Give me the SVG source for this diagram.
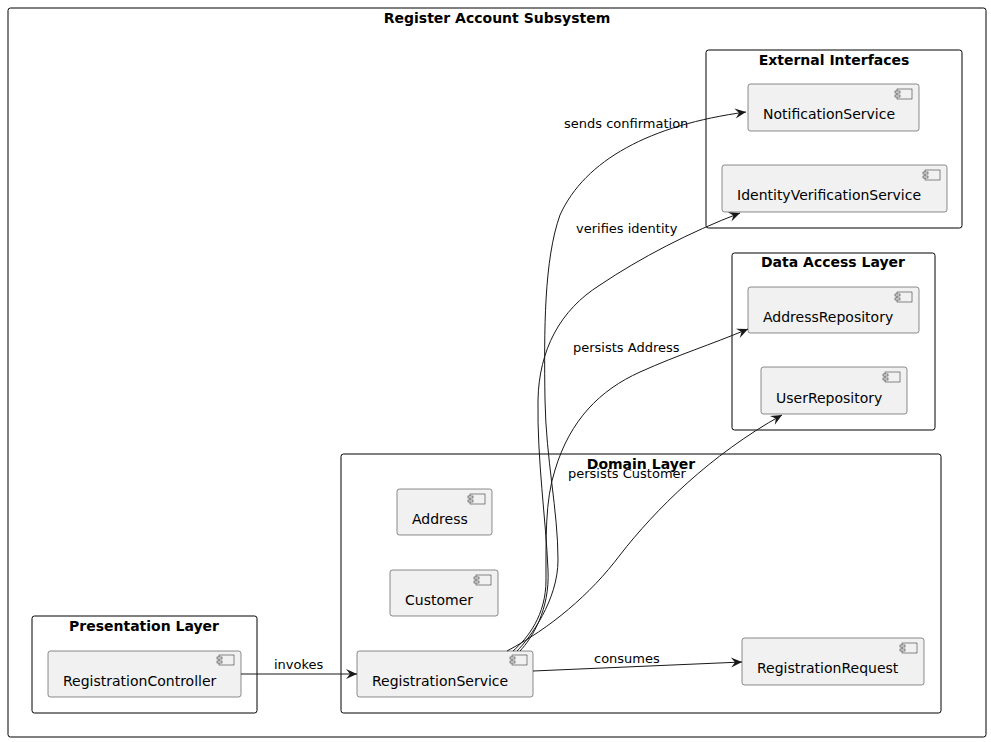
<svg xmlns="http://www.w3.org/2000/svg" width="991" height="742" viewBox="0 0 991 742">
<style>
.frame{fill:none;stroke:#000;stroke-width:1}
.ftitle{font-family:"DejaVu Sans",sans-serif;font-size:14px;font-weight:bold;fill:#000;text-anchor:middle}
.comp{fill:#F1F1F1;stroke:#181818;stroke-width:0.5}
.ctext{font-family:"DejaVu Sans",sans-serif;font-size:14px;fill:#000}
.icon{fill:#F1F1F1;stroke:#181818;stroke-width:0.5}
.edge{fill:none;stroke:#181818;stroke-width:1}
.elabel{font-family:"DejaVu Sans",sans-serif;font-size:13px;fill:#000}
</style>
<defs>
<marker id="arr" viewBox="-12 -6 13 12" markerWidth="13" markerHeight="12" refX="0" refY="0" orient="auto" markerUnits="userSpaceOnUse">
<path d="M0,0 L-11,-5 L-7,0 L-11,5 Z" fill="#181818"/>
</marker>
<g id="cicon">
<rect class="icon" x="2" y="0" width="15" height="10"/>
<rect class="icon" x="0" y="2" width="5" height="2"/>
<rect class="icon" x="0" y="6" width="5" height="2"/>
</g>
</defs>
<rect width="991" height="742" fill="#fff"/>

<g id="frame-subsystem">
<rect class="frame" x="8" y="8" width="978" height="729" rx="2.5"/>
<text class="ftitle" x="497" y="23">Register Account Subsystem</text>
</g>
<g id="frame-external">
<rect class="frame" x="706" y="50" width="256" height="178" rx="2.5"/>
<text class="ftitle" x="834" y="65">External Interfaces</text>
</g>
<g id="frame-data">
<rect class="frame" x="732" y="253" width="203" height="177" rx="2.5"/>
<text class="ftitle" x="833" y="267">Data Access Layer</text>
</g>
<g id="frame-domain">
<rect class="frame" x="341" y="454" width="600" height="259" rx="2.5"/>
<text class="ftitle" x="641" y="469">Domain Layer</text>
</g>
<g id="frame-presentation">
<rect class="frame" x="32" y="616" width="225" height="97" rx="2.5"/>
<text class="ftitle" x="144" y="631">Presentation Layer</text>
</g>

<g id="NotificationService">
<rect class="comp" x="748" y="84" width="171" height="47" rx="2.5"/>
<use href="#cicon" x="895" y="89"/>
<text class="ctext" x="763" y="119">NotificationService</text>
</g>
<g id="IdentityVerificationService">
<rect class="comp" x="722" y="165" width="225" height="47" rx="2.5"/>
<use href="#cicon" x="923" y="170"/>
<text class="ctext" x="737" y="200">IdentityVerificationService</text>
</g>
<g id="AddressRepository">
<rect class="comp" x="748" y="287" width="171" height="46" rx="2.5"/>
<use href="#cicon" x="895" y="292"/>
<text class="ctext" x="763" y="322">AddressRepository</text>
</g>
<g id="UserRepository">
<rect class="comp" x="761" y="367" width="146" height="47" rx="2.5"/>
<use href="#cicon" x="883" y="372"/>
<text class="ctext" x="776" y="403">UserRepository</text>
</g>
<g id="Address">
<rect class="comp" x="397" y="489" width="95" height="46" rx="2.5"/>
<use href="#cicon" x="468" y="494"/>
<text class="ctext" x="412" y="524">Address</text>
</g>
<g id="Customer">
<rect class="comp" x="390" y="570" width="108" height="46" rx="2.5"/>
<use href="#cicon" x="474" y="575"/>
<text class="ctext" x="405" y="605">Customer</text>
</g>
<g id="RegistrationService">
<rect class="comp" x="357" y="651" width="176" height="46" rx="2.5"/>
<use href="#cicon" x="510" y="655"/>
<text class="ctext" x="372" y="686">RegistrationService</text>
</g>
<g id="RegistrationRequest">
<rect class="comp" x="742" y="638" width="182" height="47" rx="2.5"/>
<use href="#cicon" x="900" y="643"/>
<text class="ctext" x="757" y="673">RegistrationRequest</text>
</g>
<g id="RegistrationController">
<rect class="comp" x="48" y="651" width="193" height="46" rx="2.5"/>
<use href="#cicon" x="217" y="655"/>
<text class="ctext" x="63" y="686">RegistrationController</text>
</g>

<g id="connectors">
<path class="edge" marker-end="url(#arr)" d="M241,674 L357,674"/>
<text class="elabel" x="274" y="669">invokes</text>
<path class="edge" marker-end="url(#arr)" d="M533,671 L742,662"/>
<text class="elabel" x="594" y="663">consumes</text>
<path class="edge" marker-end="url(#arr)" d="M517,651 C530,638 558,600 558,560 C558,510 546,460 545,400 C544,330 544,260 560,215 C585,160 650,125 746,112"/>
<text class="elabel" x="564" y="128">sends confirmation</text>
<path class="edge" marker-end="url(#arr)" d="M520,651 C532,638 550,610 548,570 C546,520 537,460 538,400 C539,350 560,310 600,285 C640,258 690,232 740,213"/>
<text class="elabel" x="576" y="233">verifies identity</text>
<path class="edge" marker-end="url(#arr)" d="M513,651 C528,638 546,615 546,580 C546,540 545,500 555,470 C570,420 600,390 640,372 C680,354 710,345 748,329"/>
<text class="elabel" x="573" y="352">persists Address</text>
<path class="edge" marker-end="url(#arr)" d="M507,651 C550,628 590,595 620,555 C655,510 710,455 782,415"/>
<text class="elabel" x="568" y="478">persists Customer</text>
</g>
</svg>
